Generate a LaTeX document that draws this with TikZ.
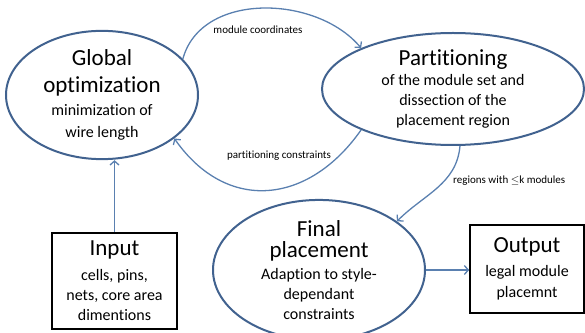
\documentclass[tikz,border=0pt]{standalone}
\usepackage{fontspec}
\setmainfont{Carlito}[Ligatures=NoCommon]
\usepackage{xcolor}
\usepackage{tikz}
\usetikzlibrary{shapes.geometric,arrows.meta}
\definecolor{ringblue}{HTML}{41628F}
\definecolor{flowblue}{HTML}{5A80B0}
\newcommand{\headfont}{\fontsize{23}{20}\selectfont}
\newcommand{\bodyfont}{\fontsize{16}{20}\selectfont}
\tikzstyle{stage}=[ellipse, draw=ringblue, line width=2pt, fill=white, align=center, inner sep=0pt, font=\bodyfont]
\tikzstyle{io box}=[rectangle, draw=black, line width=1.6pt, fill=white, align=center, inner sep=0pt, font=\bodyfont]
\tikzstyle{flow}=[-{Straight Barb[length=4pt,width=9pt]}, draw=flowblue, line width=1.3pt]
\tikzstyle{flow label}=[font=\fontsize{11}{12}\selectfont, inner sep=1pt]
\pgfdeclarelayer{nodelayer}
\pgfdeclarelayer{edgelayer}
\pgfsetlayers{nodelayer,edgelayer}

\begin{document}
\begin{tikzpicture}[x=1pt, y=1pt]
    \useasboundingbox (0,0) rectangle (585,332);
    \begin{pgfonlayer}{nodelayer}
        \node [style=stage, minimum width=192, minimum height=124] (global) at (102,237)
            {{\headfont Global}\\[7pt]{\headfont optimization}\\[3pt]minimization of\\[2pt]wire length};
        \node [style=stage, minimum width=262, minimum height=112] (part) at (453,243)
            {{\headfont Partitioning}\\of the module set and\\dissection of the\\placement region};
        \node [style=stage, minimum width=212, minimum height=136] (final) at (319,62)
            {{\headfont Final}\\[1pt]{\headfont placement}\\[2pt]Adaption to style-\\dependant\\constraints};
        \node [style=io box, minimum width=125, minimum height=96] (input) at (114.5,51)
            {{\headfont Input}\\[5pt]cells, pins,\\nets, core area\\dimentions};
        \node [style=io box, minimum width=114, minimum height=88] (output) at (527,63)
            {{\headfont Output}\\[4pt]legal module\\[1pt]placemnt};
        \node [style=flow label] (lblcoord) at (258,302) {module coordinates};
        \node [style=flow label] (lblcons) at (279,176) {partitioning constraints};
        \node [style=flow label, anchor=west] (lblreg) at (452,151) {regions with $\leq$k modules};
    \end{pgfonlayer}
    \begin{pgfonlayer}{edgelayer}
        \draw [style=flow] (global.24) to [out=75, in=130] (part.156);
        \draw [style=flow] (part.204) to [out=235, in=-55, looseness=1.25] (global.-31);
        \draw [style=flow] (part.-83) to [out=-95, in=45] (final.32);
        \draw [style=flow] (input.north) to (input.north |- global.south);
        \draw [style=flow] (final.east) to (final.east -| output.west);
    \end{pgfonlayer}
\end{tikzpicture}
\end{document}
